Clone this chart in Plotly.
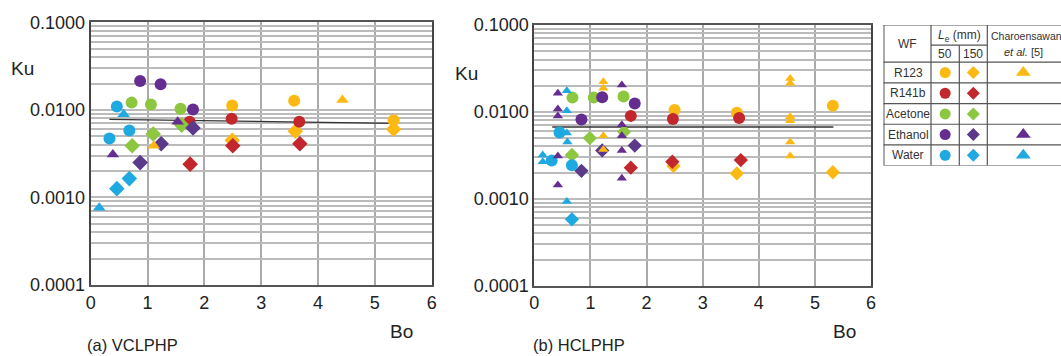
import plotly.graph_objects as go

W, H = 1061, 356

# ---------------- data: (a) VCLPHP ----------------
VC_R123_50_BO = [2.49, 3.58, 5.33]
VC_R123_50_KU = [0.0112, 0.0127, 0.0076]
VC_R123_150_BO = [2.49, 3.60, 5.33]
VC_R123_150_KU = [0.0045, 0.0057, 0.0060]
VC_R123_CH_BO = [1.11, 4.43]
VC_R123_CH_KU = [0.0039, 0.0130]

VC_R141B_50_BO = [1.74, 2.48, 3.67]
VC_R141B_50_KU = [0.0073, 0.0079, 0.0073]
VC_R141B_150_BO = [1.75, 2.50, 3.68]
VC_R141B_150_KU = [0.0024, 0.0039, 0.0041]

VC_ACE_50_BO = [0.72, 1.06, 1.58]
VC_ACE_50_KU = [0.0121, 0.0115, 0.0103]
VC_ACE_150_BO = [0.73, 1.10, 1.60]
VC_ACE_150_KU = [0.0039, 0.0053, 0.0067]

VC_ETH_50_BO = [0.87, 1.23, 1.80]
VC_ETH_50_KU = [0.0214, 0.0196, 0.0101]
VC_ETH_150_BO = [0.87, 1.24, 1.80]
VC_ETH_150_KU = [0.0025, 0.0041, 0.0062]
VC_ETH_CH_BO = [0.39, 1.53]
VC_ETH_CH_KU = [0.0031, 0.0073]

VC_WAT_50_BO = [0.46, 0.33, 0.68]
VC_WAT_50_KU = [0.0109, 0.0047, 0.0058]
VC_WAT_150_BO = [0.46, 0.68]
VC_WAT_150_KU = [0.00126, 0.00164]
VC_WAT_CH_BO = [0.58, 0.15]
VC_WAT_CH_KU = [0.0089, 0.00076]

VC_FIT_BO = [0.33, 5.33]
VC_FIT_KU = [0.0078, 0.0070]

# ---------------- data: (b) HCLPHP ----------------
HC_R123_50_BO = [2.50, 3.61, 5.32]
HC_R123_50_KU = [0.0105, 0.0098, 0.0118]
HC_R123_150_BO = [2.48, 3.61, 5.32]
HC_R123_150_KU = [0.00238, 0.00196, 0.00202]
HC_R123_CH_BO = [1.23, 1.23, 1.23, 1.23, 4.56, 4.56, 4.56, 4.56, 4.56, 4.56]
HC_R123_CH_KU = [0.0223, 0.0187, 0.0053, 0.0037, 0.0243, 0.0213, 0.0088, 0.0079, 0.0045, 0.0031]

HC_R141B_50_BO = [1.72, 2.47, 3.65]
HC_R141B_50_KU = [0.0090, 0.0083, 0.0085]
HC_R141B_150_BO = [1.72, 2.46, 3.68]
HC_R141B_150_KU = [0.00228, 0.00267, 0.00279]

HC_ACE_50_BO = [0.68, 1.06, 1.59]
HC_ACE_50_KU = [0.0146, 0.0146, 0.0150]
HC_ACE_150_BO = [0.99, 0.67, 1.60]
HC_ACE_150_KU = [0.0050, 0.0032, 0.0059]

HC_ETH_50_BO = [0.84, 1.21, 1.79]
HC_ETH_50_KU = [0.0082, 0.0147, 0.0125]
HC_ETH_150_BO = [0.84, 1.21, 1.79]
HC_ETH_150_KU = [0.0021, 0.0036, 0.0041]
HC_ETH_CH_BO = [0.42, 0.42, 0.42, 0.42, 0.42, 1.56, 1.56, 1.56, 1.56, 1.56]
HC_ETH_CH_KU = [0.0164, 0.0108, 0.0090, 0.0031, 0.00144, 0.0204, 0.0071, 0.0053, 0.0036, 0.00172]

HC_WAT_50_BO = [0.45, 0.31, 0.67]
HC_WAT_50_KU = [0.0058, 0.00275, 0.00243]
HC_WAT_150_BO = [0.67]
HC_WAT_150_KU = [0.00058]
HC_WAT_CH_BO = [0.58, 0.58, 0.58, 0.59, 0.15, 0.15, 0.58]
HC_WAT_CH_KU = [0.0175, 0.0103, 0.0057, 0.0045, 0.0032, 0.00267, 0.00093]

HC_FIT_BO = [0.32, 5.33]
HC_FIT_KU = [0.0067, 0.0067]

# ---------------- table / ticks ----------------
FLUIDS = ["R123", "R141b", "Acetone", "Ethanol", "Water"]
COLORS = ["#FDB913", "#C1272D", "#8DC63F", "#662D91", "#1FA9E1"]
DIAMOND_COLORS = ["#FDB913", "#C1272D", "#8DC63F", "#5B3A8C", "#1FA9E1"]
HAS_CH = [True, False, False, True, True]
X_TICKS = [0, 1, 2, 3, 4, 5, 6]
Y_DECADES = [0.0001, 0.001, 0.01, 0.1]
Y_DECADE_LABELS = ["0.0001", "0.0010", "0.0100", "0.1000"]

# log grid values (1..9 per decade)
y_grid = []
y_text = []
for d, lab in zip(Y_DECADES[:-1], Y_DECADE_LABELS[:-1]):
    for m in range(1, 10):
        y_grid.append(d * m)
        y_text.append(lab if m == 1 else "")
y_grid.append(Y_DECADES[-1])
y_text.append(Y_DECADE_LABELS[-1])

FONT = "Liberation Sans, Arial, sans-serif"
TXT = "#222222"

fig = go.Figure()

def add(xs, ys, color, symbol, size, xa, ya):
    fig.add_trace(go.Scatter(
        x=xs, y=ys, mode="markers", xaxis=xa, yaxis=ya, showlegend=False,
        marker=dict(color=color, symbol=symbol, size=size, line=dict(width=0)),
        hoverinfo="skip"))

def fit(xs, ys, xa, ya):
    fig.add_trace(go.Scatter(x=xs, y=ys, mode="lines", xaxis=xa, yaxis=ya,
                             showlegend=False, line=dict(color="#333333", width=1.3),
                             hoverinfo="skip"))

# (a)
fit(VC_FIT_BO, VC_FIT_KU, "x", "y")
a_sets = [
    (VC_R123_50_BO, VC_R123_50_KU, VC_R123_150_BO, VC_R123_150_KU),
    (VC_R141B_50_BO, VC_R141B_50_KU, VC_R141B_150_BO, VC_R141B_150_KU),
    (VC_ACE_50_BO, VC_ACE_50_KU, VC_ACE_150_BO, VC_ACE_150_KU),
    (VC_ETH_50_BO, VC_ETH_50_KU, VC_ETH_150_BO, VC_ETH_150_KU),
    (VC_WAT_50_BO, VC_WAT_50_KU, VC_WAT_150_BO, VC_WAT_150_KU),
]
for i, (b50, k50, b150, k150) in enumerate(a_sets):
    add(b150, k150, DIAMOND_COLORS[i], "diamond", 12, "x", "y")
    add(b50, k50, COLORS[i], "circle", 12, "x", "y")
add(VC_R123_CH_BO, VC_R123_CH_KU, COLORS[0], "triangle-up", 11, "x", "y")
add(VC_ETH_CH_BO, VC_ETH_CH_KU, COLORS[3], "triangle-up", 11, "x", "y")
add(VC_WAT_CH_BO, VC_WAT_CH_KU, COLORS[4], "triangle-up", 11, "x", "y")

# (b)
fit(HC_FIT_BO, HC_FIT_KU, "x2", "y2")
b_sets = [
    (HC_R123_50_BO, HC_R123_50_KU, HC_R123_150_BO, HC_R123_150_KU),
    (HC_R141B_50_BO, HC_R141B_50_KU, HC_R141B_150_BO, HC_R141B_150_KU),
    (HC_ACE_50_BO, HC_ACE_50_KU, HC_ACE_150_BO, HC_ACE_150_KU),
    (HC_ETH_50_BO, HC_ETH_50_KU, HC_ETH_150_BO, HC_ETH_150_KU),
    (HC_WAT_50_BO, HC_WAT_50_KU, HC_WAT_150_BO, HC_WAT_150_KU),
]
for i, (b50, k50, b150, k150) in enumerate(b_sets):
    add(b150, k150, DIAMOND_COLORS[i], "diamond", 11, "x2", "y2")
    add(b50, k50, COLORS[i], "circle", 12, "x2", "y2")
add(HC_R123_CH_BO, HC_R123_CH_KU, COLORS[0], "triangle-up", 9, "x2", "y2")
add(HC_ETH_CH_BO, HC_ETH_CH_KU, COLORS[3], "triangle-up", 9, "x2", "y2")
add(HC_WAT_CH_BO, HC_WAT_CH_KU, COLORS[4], "triangle-up", 9, "x2", "y2")

# ---------------- table (axis x3/y3, px offsets from table corner, row units) ----------------
TAB_X0, TAB_Y0 = 883.3, 25.0
COL_WF, COL_50, COL_150, COL_CH = 47.7, 76.0, 104.0, 250.0
HDR = 1.8
ROW_H = 20.68
tab_w = W - TAB_X0
tab_rows = HDR + len(FLUIDS)
tab_h = tab_rows * ROW_H

rows_y = [HDR + i + 0.5 for i in range(len(FLUIDS))]
add([(COL_WF + COL_50) / 2] * len(FLUIDS), rows_y, COLORS, "circle", 11, "x3", "y3")
add([(COL_50 + COL_150) / 2] * len(FLUIDS), rows_y, DIAMOND_COLORS, "diamond", 10, "x3", "y3")
ch_y = [y for y, h in zip(rows_y, HAS_CH) if h]
ch_c = [c for c, h in zip(COLORS, HAS_CH) if h]
add([140.0] * len(ch_y), ch_y, ch_c, "triangle-up", 13, "x3", "y3")

shapes = []
LC = "#555555"
def tline(x0, y0, x1, y1):
    shapes.append(dict(type="line", xref="x3", yref="y3", x0=x0, y0=y0, x1=x1, y1=y1,
                       line=dict(color=LC, width=1.2)))
tline(0, 0, COL_CH, 0)
tline(0, tab_rows, COL_CH, tab_rows)
tline(0.6, 0, 0.6, tab_rows)
for i in range(len(FLUIDS)):
    tline(0, HDR + i, COL_CH, HDR + i)
tline(COL_WF, 0, COL_WF, tab_rows)
tline(COL_150, 0, COL_150, tab_rows)
tline(COL_50, 0.97, COL_50, tab_rows)
tline(COL_WF, 0.97, COL_150, 0.97)

annotations = []
def tt(x, y, text, size=12, xanchor="center"):
    annotations.append(dict(xref="x3", yref="y3", x=x, y=y, text=text, showarrow=False,
                            xanchor=xanchor, yanchor="middle",
                            font=dict(family=FONT, size=size, color="#333333")))
tt(COL_WF / 2, HDR / 2, "WF", 12)
tt((COL_WF + COL_150) / 2, 0.55, "<i>L</i><sub>e</sub> (mm)", 12)
tt((COL_WF + COL_50) / 2, 1.38, "50", 12)
tt((COL_50 + COL_150) / 2, 1.38, "150", 12)
tt(COL_150 + 1.5, 0.55, "Charoensawan", 10.5, "left")
tt(140, 1.3, "<i>et al.</i> [5]", 11)
for f, y in zip(FLUIDS, rows_y):
    tt(COL_WF / 2 + 1, y, f, 12)

# ---------------- axis titles / captions ----------------
def ptxt(px, py, text, size):
    annotations.append(dict(xref="paper", yref="paper", x=px / W, y=1 - py / H, text=text,
                            showarrow=False, xanchor="center", yanchor="middle",
                            font=dict(family=FONT, size=size, color=TXT)))
ptxt(22, 68, "Ku", 19)
ptxt(401, 331, "Bo", 19)
ptxt(132, 345, "(a) VCLPHP", 16.5)
ptxt(466, 73, "Ku", 19)
ptxt(844, 331, "Bo", 19)
ptxt(579, 345, "(b) HCLPHP", 16.5)

def xaxis(domain, anchor):
    return dict(domain=domain, anchor=anchor, range=[0, 6], tickvals=X_TICKS,
                showgrid=True, gridcolor="#AAAAAA", gridwidth=1.5, zeroline=False,
                showline=True, linecolor="#555555", linewidth=2, mirror=True,
                automargin=False,
                ticks="", tickfont=dict(family=FONT, size=18, color=TXT))

def yaxis(domain, anchor):
    return dict(domain=domain, anchor=anchor, type="log", range=[-4, -1],
                tickvals=y_grid, ticktext=y_text, automargin=False,
                showgrid=True, gridcolor="#BBBBBB", gridwidth=1.5, zeroline=False,
                showline=True, linecolor="#444444", linewidth=2, mirror=True,
                ticks="", tickfont=dict(family=FONT, size=18, color=TXT))

fig.update_layout(
    width=W, height=H, margin=dict(l=0, r=0, t=0, b=0, autoexpand=False),
    paper_bgcolor="white", plot_bgcolor="rgba(0,0,0,0)",
    xaxis=xaxis([90.7 / W, 431.7 / W], "y"),
    yaxis=yaxis([1 - 285 / H, 1 - 22.3 / H], "x"),
    xaxis2=xaxis([534.3 / W, 871 / W], "y2"),
    yaxis2=yaxis([1 - 285.7 / H, 1 - 25 / H], "x2"),
    xaxis3=dict(domain=[TAB_X0 / W, 1], anchor="y3", range=[0, tab_w], visible=False,
                automargin=False),
    yaxis3=dict(domain=[1 - (TAB_Y0 + tab_h) / H, 1 - TAB_Y0 / H], anchor="x3",
                range=[tab_rows, 0], visible=False, automargin=False),
    shapes=shapes, annotations=annotations,
)

fig.write_html("out.html", config={"displayModeBar": False},
               post_script="document.body.style.margin='0';document.body.style.overflow='hidden';")
